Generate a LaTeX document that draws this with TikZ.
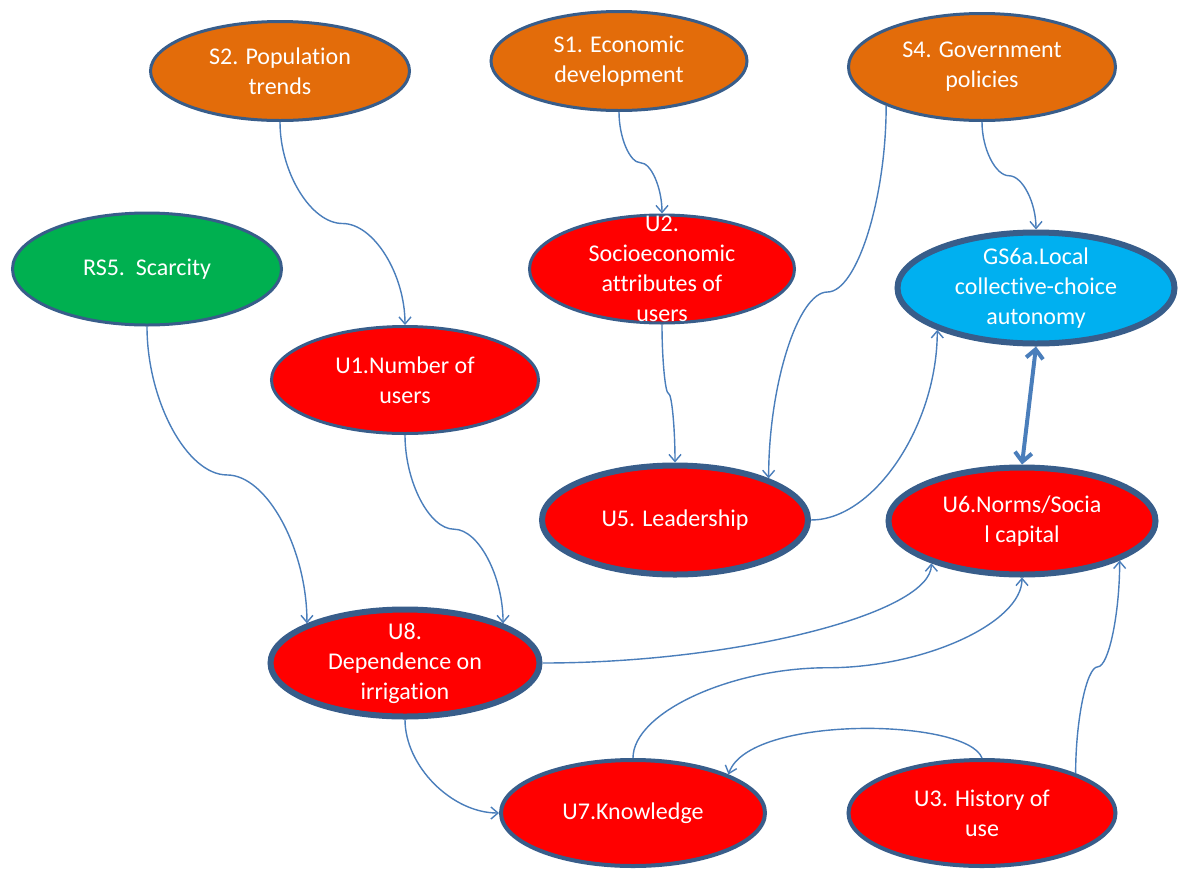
\documentclass[tikz,border=0pt]{standalone}
\usepackage{fontspec}
\setmainfont{Carlito}[Ligatures=NoCommon]
\usetikzlibrary{arrows.meta,shapes.geometric,calc}

\definecolor{rim}{RGB}{56,93,138}
\definecolor{wire}{RGB}{74,126,187}
\definecolor{sorange}{RGB}{227,108,10}
\definecolor{rsgreen}{RGB}{0,176,80}
\definecolor{ured}{RGB}{255,0,0}
\definecolor{gscyan}{RGB}{0,176,240}

\tikzset{
  ell/.style={ellipse, draw=rim, inner sep=0pt},
  thinrim/.style={ell, line width=3pt},
  midrim/.style={ell, line width=4pt},
  boldrim/.style={ell, line width=6pt},
  lbl/.style={text=white, align=center, inner sep=0pt,
    font=\fontsize{24}{30}\selectfont},
  link/.style={draw=wire, line width=1.4pt,
    -{Straight Barb[length=7pt,width=12pt]}},
  % vertical out, flat middle, vertical in
  scurve/.style={to path={let \p1=(\tikztostart), \p2=(\tikztotarget) in
    .. controls (\x1,{\y1+(\y2-\y1)/4}) and ({\x1+(\x2-\x1)/4},{(\y1+\y2)/2})
    .. ({(\x1+\x2)/2},{(\y1+\y2)/2})
    .. controls ({\x1+3*(\x2-\x1)/4},{(\y1+\y2)/2}) and (\x2,{\y2-(\y2-\y1)/4})
    .. (\p2)}},
  % horizontal out, vertical in
  hv/.style={to path={let \p1=(\tikztostart), \p2=(\tikztotarget) in
    .. controls ({(\x1+\x2)/2},\y1) and (\x2,{(\y1+\y2)/2}) .. (\p2)}},
  % vertical out, horizontal in
  vh/.style={to path={let \p1=(\tikztostart), \p2=(\tikztotarget) in
    .. controls (\x1,{(\y1+\y2)/2}) and ({(\x1+\x2)/2},\y2) .. (\p2)}},
}

\begin{document}
\begin{tikzpicture}[x=1pt,y=-1pt]
\useasboundingbox[fill=white] (0,0) rectangle (1179,871);

% ---- variables ----
\node[thinrim, fill=sorange, minimum width=259pt, minimum height=99pt] (s2) at (280,71) {};
\node[lbl] (s2t) at (s2) {S2. Population\\trends};

\node[thinrim, fill=sorange, minimum width=256pt, minimum height=99pt] (s1) at (619,61) {};
\node[lbl] (s1t) at (s1) {S1. Economic\\development};

\node[thinrim, fill=sorange, minimum width=267pt, minimum height=107pt] (s4) at (982,67) {};
\node[lbl] (s4t) at (s4) {S4. Government\\policies};

\node[thinrim, fill=rsgreen, minimum width=269pt, minimum height=112pt] (rs5) at (147,269) {};
\node[lbl] (rs5t) at (rs5) {RS5.\ \ Scarcity};

\node[thinrim, fill=ured, minimum width=265pt, minimum height=108pt] (u2) at (662,269) {};
\node[lbl] (u2t) at (u2) {U2.\\Socioeconomic\\attributes of\\users};

\node[boldrim, fill=gscyan, minimum width=277pt, minimum height=111pt] (gs6a) at (1036,288) {};
\node[lbl] (gs6at) at (gs6a) {GS6a.Local\\collective-choice\\autonomy};

\node[thinrim, fill=ured, minimum width=267pt, minimum height=107pt] (u1) at (405,380) {};
\node[lbl] (u1t) at (u1) {U1.Number of\\users};

\node[boldrim, fill=ured, minimum width=266pt, minimum height=109pt] (u5) at (675,520) {};
\node[lbl] (u5t) at (u5) {U5. Leadership};

\node[boldrim, fill=ured, minimum width=267pt, minimum height=107pt] (u6) at (1022,521) {};
\node[lbl] (u6t) at (u6) {U6.Norms/Socia\\l capital};

\node[boldrim, fill=ured, minimum width=269pt, minimum height=107pt] (u8) at (405,663) {};
\node[lbl] (u8t) at (u8) {U8.\\Dependence on\\irrigation};

\node[midrim, fill=ured, minimum width=264pt, minimum height=106pt] (u7) at (633,813) {};
\node[lbl] (u7t) at (u7) {U7.Knowledge};

\node[midrim, fill=ured, minimum width=267pt, minimum height=106pt] (u3) at (982,813) {};
\node[lbl] (u3t) at (u3) {U3. History of\\use};

% ---- influences ----
\draw[link] (s2.south) to[scurve] (u1.north);
\draw[link] (s1.south) to[scurve] (u2.north);
\draw[link] (s4.south) to[scurve] (gs6a.north);
\draw[link] (s4.202) to[scurve] (u5.24);
\draw[link] (u2.south) to[scurve] (u5.north);
\draw[link] (u5.east) to[hv] (gs6a.203);
\draw[link] (rs5.south) to[scurve] (u8.158);
\draw[link] (u1.south) to[scurve] (u8.22);
\draw[link] (u8.east) to[hv] (u6.205);
\draw[link] (u8.south) to[vh] (u7.west);
\draw[link] (u7.north) to[scurve] (u6.south);
\draw[link] (u3.north) .. controls +(-15,-40) and +(20,-60) .. (u7.22);
\draw[link] (u3.23) to[scurve] (u6.338);

% two-way tie between autonomy and norms
\draw[draw=wire, line width=4pt,
  {Straight Barb[length=9pt,width=17pt]}-{Straight Barb[length=9pt,width=17pt]}]
  (gs6a.south) -- (u6.north);
\end{tikzpicture}
\end{document}
